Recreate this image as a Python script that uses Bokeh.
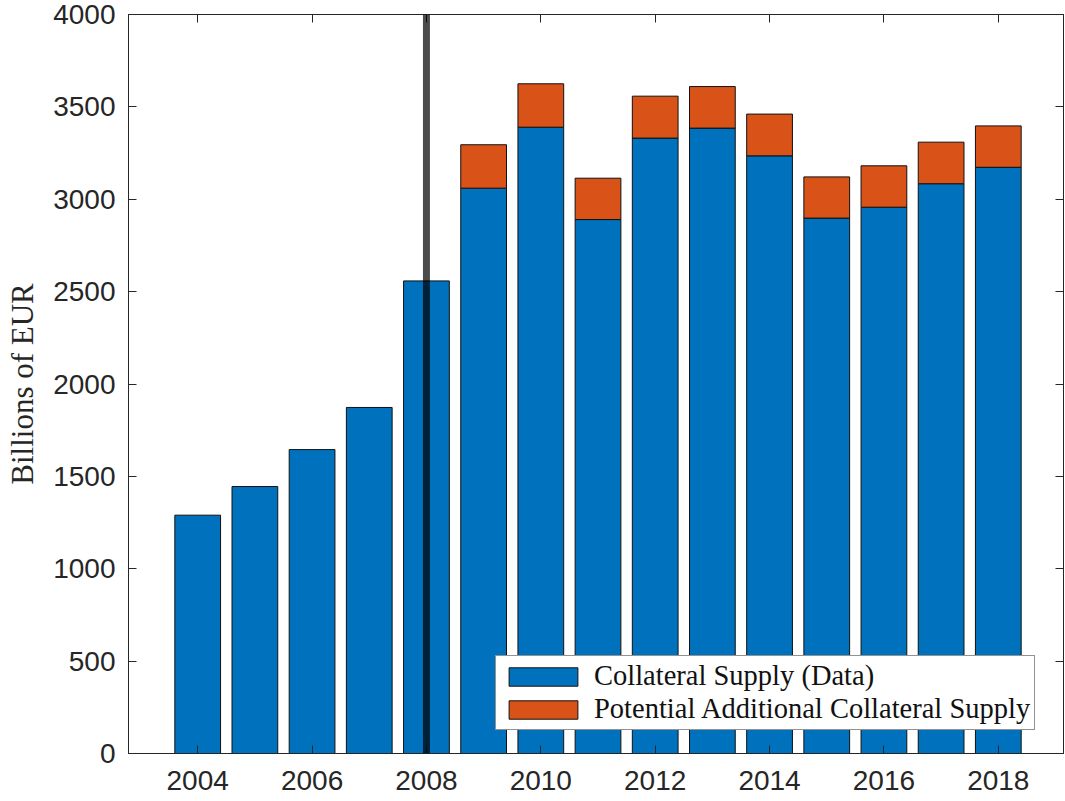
from bokeh.plotting import figure
from bokeh.models import Range1d, FixedTicker, LinearAxis, Span, Legend, LegendItem
from bokeh.embed import file_html
from bokeh.resources import INLINE

# ---- data ----
years = list(range(2004, 2019))
collateral_data = [1290, 1445, 1645, 1873, 2558, 3060, 3390, 2890, 3331, 3385,
                   3235, 2898, 2957, 3084, 3173]
potential_years = list(range(2009, 2019))
potential_total = [3295, 3625, 3114, 3558, 3610, 3461, 3121, 3181, 3309, 3397]
x_ticks = [2004, 2006, 2008, 2010, 2012, 2014, 2016, 2018]
y_ticks = [0, 500, 1000, 1500, 2000, 2500, 3000, 3500, 4000]
crisis_year = 2008
series_labels = ["Collateral Supply (Data)", "Potential Additional Collateral Supply"]

BLUE = "#0072BD"
ORANGE = "#D95319"
AX = "#262626"

p = figure(width=1065, height=801,
           x_range=Range1d(2002.79, 2019.14), y_range=Range1d(0, 4000),
           output_backend="svg", toolbar_location=None,
           min_border_left=128, min_border_top=14, min_border_bottom=48,
           min_border_right=2)
p.grid.visible = False
p.outline_line_color = AX

base = [collateral_data[years.index(y)] for y in potential_years]
r1 = p.vbar(x=years, width=0.8, bottom=0, top=collateral_data,
            fill_color=BLUE, line_color="#111111", line_width=1)
r2 = p.vbar(x=potential_years, width=0.8, bottom=base, top=potential_total,
            fill_color=ORANGE, line_color="#111111", line_width=1)

def style_axis(ax, ticks, show_labels):
    ax.ticker = FixedTicker(ticks=ticks)
    ax.minor_tick_line_color = None
    ax.major_tick_in = 8
    ax.major_tick_out = 0
    ax.axis_line_color = AX
    ax.major_tick_line_color = AX
    if show_labels:
        ax.major_label_text_font = "Liberation Sans"
        ax.major_label_text_font_size = "28px"
        ax.major_label_text_color = AX
    else:
        ax.major_label_text_font_size = "1px"
        ax.major_label_text_color = None
        ax.major_label_standoff = 0

style_axis(p.xaxis[0], x_ticks, True)
p.xaxis[0].major_label_standoff = 17
style_axis(p.yaxis[0], y_ticks, True)
p.yaxis[0].major_label_standoff = 13
p.yaxis[0].axis_label = "Billions of EUR"
p.yaxis[0].axis_label_text_font = "Liberation Serif"
p.yaxis[0].axis_label_text_font_size = "31px"
p.yaxis[0].axis_label_text_font_style = "normal"
p.yaxis[0].axis_label_text_color = AX
p.yaxis[0].axis_label_standoff = 10

top_ax = LinearAxis()
style_axis(top_ax, x_ticks, False)
p.add_layout(top_ax, "above")
right_ax = LinearAxis()
style_axis(right_ax, y_ticks, False)
p.add_layout(right_ax, "right")

p.add_layout(Span(location=crisis_year, dimension="height",
                  line_color="black", line_alpha=0.7, line_width=7))

legend = Legend(items=[LegendItem(label=series_labels[0], renderers=[r1]),
                       LegendItem(label=series_labels[1], renderers=[r2])],
                location=(367, 23), margin=0, padding=4, spacing=1,
                glyph_width=86, glyph_height=23, label_height=23,
                label_standoff=8,
                label_text_font="Liberation Serif", label_text_font_size="28.5px",
                label_text_color="#111111",
                border_line_color=AX, border_line_width=1,
                background_fill_color="white", background_fill_alpha=1)
p.add_layout(legend)

open("out.html", "w").write(file_html(p, INLINE))
